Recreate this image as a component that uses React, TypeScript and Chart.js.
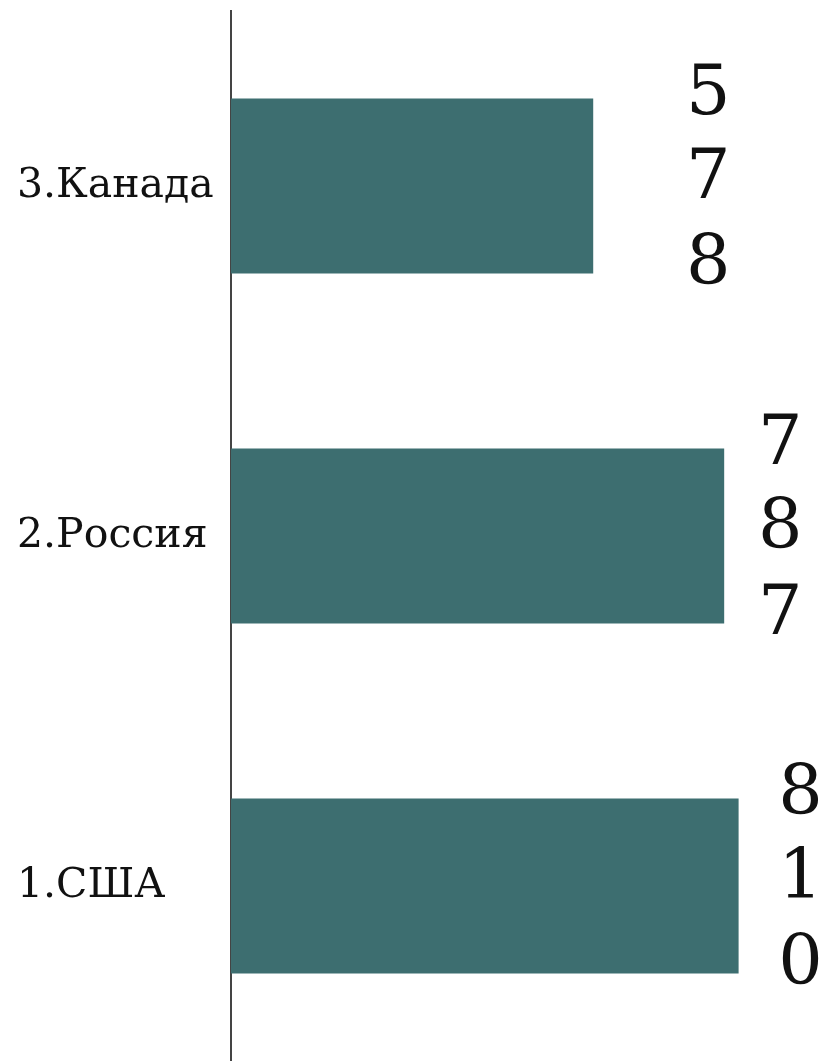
import React, { useEffect, useRef } from "react";
import { Chart, registerables } from "chart.js";

Chart.register(...registerables);

const categories: string[] = ["3.Канада", "2.Россия", "1.США"];
const values: number[] = [578, 787, 810];
const axisMax = 900;

// style-only settings for the stacked digit labels
const labelOffsetX: number[] = [115, 56, 62];
const digitLineOffsets: number[] = [-90, -6, 80];

const BAR_COLOR = "#3d6e70";
const FONT = "'DejaVu Serif', Georgia, serif";

const stackedDigits = {
  id: "stackedDigits",
  afterDatasetsDraw(chart: any) {
    const { ctx } = chart;
    const meta = chart.getDatasetMeta(0);
    ctx.save();
    ctx.fillStyle = "#111";
    ctx.font = `70px ${FONT}`;
    ctx.textAlign = "center";
    ctx.textBaseline = "middle";
    meta.data.forEach((bar: any, i: number) => {
      const digits = String(values[i]).split("");
      const cx = bar.x + labelOffsetX[i];
      digits.forEach((d, j) => {
        ctx.fillText(d, cx, bar.y + digitLineOffsets[j]);
      });
    });
    ctx.restore();
  },
};

export default function App() {
  const ref = useRef<HTMLCanvasElement | null>(null);
  useEffect(() => {
    if (!ref.current) return;
    const chart = new Chart(ref.current, {
      type: "bar",
      data: {
        labels: categories,
        datasets: [
          {
            data: values,
            backgroundColor: BAR_COLOR,
            borderWidth: 0,
            categoryPercentage: 1,
            barPercentage: 0.5,
          },
        ],
      },
      options: {
        indexAxis: "y",
        animation: false,
        responsive: false,
        maintainAspectRatio: false,
        layout: { padding: { left: 17, top: 11, bottom: 0, right: 26 } },
        plugins: { legend: { display: false }, tooltip: { enabled: false } },
        scales: {
          x: {
            display: false,
            min: 0,
            max: axisMax,
          },
          y: {
            grid: { display: false },
            border: { display: true, color: "#444", width: 2 },
            ticks: {
              crossAlign: "far",
              color: "#111",
              font: { family: FONT, size: 41 },
            },
            afterFit: (scale: any) => {
              scale.width = 214;
              scale.paddingTop = 0;
              scale.paddingBottom = 0;
            },
          },
        },
      },
      plugins: [stackedDigits],
    });
    return () => chart.destroy();
  }, []);
  return (
    <div style={{ position: "absolute", left: 0, top: 0, width: 821, height: 1061, background: "#fff" }}>
      <canvas ref={ref} width={821} height={1061} style={{ display: "block", width: 821, height: 1061 }} />
    </div>
  );
}
